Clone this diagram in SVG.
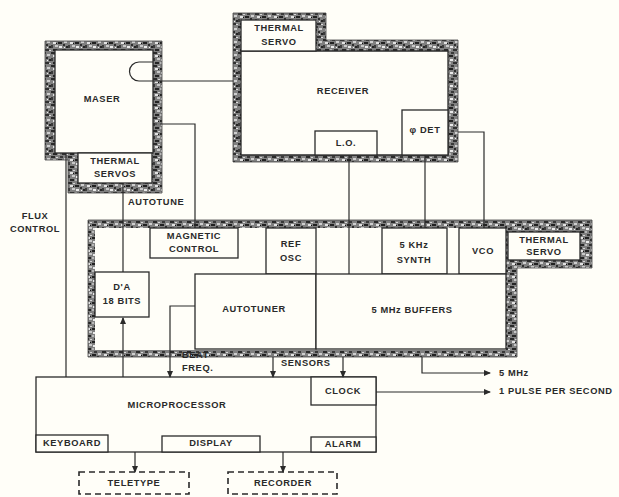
<svg xmlns="http://www.w3.org/2000/svg" width="619" height="497" viewBox="0 0 619 497">
<style>
text{font-family:"Liberation Sans",Arial,sans-serif;font-size:9.3px;font-weight:bold;fill:#2a2a2a;letter-spacing:0.6px;text-anchor:middle;dominant-baseline:middle}
.box{fill:#fffef8;stroke:#2a2a2a;stroke-width:1.3}
.dash{fill:#fffef8;stroke:#2a2a2a;stroke-width:1.6;stroke-dasharray:6,4}
.shield{fill:url(#spk);stroke:#444;stroke-width:0.8}
.ln{fill:none;stroke:#2a2a2a;stroke-width:1.2}
.lab{text-anchor:start}
</style>
<defs>
<pattern id="spk" width="17" height="13" patternUnits="userSpaceOnUse">
<rect width="17" height="13" fill="#808080"/>
<rect x="0" y="0" width="4" height="2" fill="#2a2a2a"/>
<rect x="5" y="1" width="2" height="1" fill="#d6d6d6"/>
<rect x="9" y="0" width="3" height="2" fill="#3a3a3a"/>
<rect x="13" y="2" width="3" height="2" fill="#cfcfcf"/>
<rect x="2" y="3" width="3" height="2" fill="#e2e2e2"/>
<rect x="7" y="3" width="4" height="2" fill="#222"/>
<rect x="12" y="5" width="2" height="2" fill="#2e2e2e"/>
<rect x="0" y="6" width="2" height="3" fill="#3a3a3a"/>
<rect x="4" y="6" width="3" height="2" fill="#c8c8c8"/>
<rect x="8" y="7" width="3" height="2" fill="#eaeaea"/>
<rect x="15" y="7" width="2" height="2" fill="#252525"/>
<rect x="2" y="10" width="4" height="2" fill="#262626"/>
<rect x="7" y="10" width="2" height="2" fill="#b8b8b8"/>
<rect x="11" y="10" width="4" height="2" fill="#303030"/>
<rect x="15" y="11" width="2" height="1" fill="#dddddd"/>
<rect x="5" y="4" width="1" height="1" fill="#111"/>
<rect x="13" y="8" width="1" height="1" fill="#f2f2f2"/>
</pattern>
<marker id="ah" markerWidth="7" markerHeight="6" refX="6" refY="3" orient="auto" markerUnits="userSpaceOnUse">
<path d="M0,0 L7,3 L0,6 Z" fill="#2a2a2a"/>
</marker>
</defs>
<rect width="619" height="497" fill="#fffef8"/>

<g id="maser-shield">
<path class="shield" d="M45,41 H162 V193 H68 V160 H45 Z"/>
</g>
<g id="receiver-shield">
<path class="shield" d="M233,13 H326 V40 H458 V162 H233 Z"/>
</g>
<g id="main-shield">
<path class="shield" d="M88,220 H592 V268 H517 V357 H88 Z"/>
<rect x="95" y="228" width="411" height="122" fill="#fffef8"/>
</g>

<g id="maser">
<rect class="box" x="55" y="50" width="98" height="103"/>
<text x="102" y="100">MASER</text>
</g>
<g id="thermal-servos">
<rect class="box" x="78" y="153" width="74" height="30"/>
<text x="115" y="162">THERMAL</text>
<text x="115" y="175">SERVOS</text>
</g>
<g id="receiver">
<path class="box" d="M241,51 H448 V155 H241 Z"/>
<text x="343" y="92">RECEIVER</text>
</g>
<g id="receiver-thermal-servo">
<rect class="box" x="241" y="20" width="75" height="31"/>
<text x="279" y="29">THERMAL</text>
<text x="279" y="43">SERVO</text>
</g>
<g id="lo">
<rect class="box" x="315" y="131" width="62" height="24"/>
<text x="346" y="144">L.O.</text>
</g>
<g id="phase-det">
<rect class="box" x="402" y="110" width="46" height="45"/>
<text x="425" y="131">φ DET</text>
</g>
<g id="magnetic-control">
<rect class="box" x="150" y="228" width="88" height="30"/>
<text x="194" y="237">MAGNETIC</text>
<text x="194" y="250">CONTROL</text>
</g>
<g id="ref-osc">
<rect class="box" x="266" y="228" width="50" height="46"/>
<text x="291" y="245">REF</text>
<text x="291" y="259">OSC</text>
</g>
<g id="synth">
<rect class="box" x="382" y="228" width="65" height="46"/>
<text x="414" y="246">5 KHz</text>
<text x="414" y="261">SYNTH</text>
</g>
<g id="vco">
<rect class="box" x="459" y="228" width="47" height="46"/>
<text x="483" y="252">VCO</text>
</g>
<g id="main-thermal-servo">
<rect class="box" x="508" y="232" width="72" height="28"/>
<text x="544" y="241">THERMAL</text>
<text x="544" y="253">SERVO</text>
</g>
<g id="da">
<rect class="box" x="95" y="272" width="54" height="45"/>
<text x="122" y="288">D'A</text>
<text x="122" y="302">18 BITS</text>
</g>
<g id="autotuner">
<rect class="box" x="195" y="274" width="121" height="75"/>
<text x="254" y="310">AUTOTUNER</text>
</g>
<g id="buffers">
<rect class="box" x="316" y="274" width="190" height="75"/>
<text x="412" y="311">5 MHz BUFFERS</text>
</g>
<g id="microprocessor">
<rect class="box" x="36" y="377" width="340" height="75"/>
<text x="177" y="406">MICROPROCESSOR</text>
</g>
<g id="clock">
<rect class="box" x="311" y="377" width="65" height="28"/>
<text x="343" y="392">CLOCK</text>
</g>
<g id="keyboard">
<rect class="box" x="36" y="435" width="72" height="17"/>
<text x="72" y="444">KEYBOARD</text>
</g>
<g id="display">
<rect class="box" x="162" y="436" width="98" height="16"/>
<text x="211" y="444">DISPLAY</text>
</g>
<g id="alarm">
<rect class="box" x="311" y="437" width="65" height="15"/>
<text x="343" y="445">ALARM</text>
</g>
<g id="teletype">
<rect class="dash" x="79" y="472" width="110" height="22"/>
<text x="134" y="484">TELETYPE</text>
</g>
<g id="recorder">
<rect class="dash" x="228" y="472" width="109" height="22"/>
<text x="283" y="484">RECORDER</text>
</g>

<g id="connectors">
<path class="ln" d="M153,62 H139 A9.5,9.5 0 0 0 139,81 H233"/>
<path class="ln" d="M153,124 H195 V228"/>
<path class="ln" d="M123,183 V272"/>
<path class="ln" d="M123,377 V318" marker-end="url(#ah)"/>
<path class="ln" d="M66,153 V377"/>
<path class="ln" d="M349,155 V274"/>
<path class="ln" d="M425,155 V228"/>
<path class="ln" d="M458,132 H484 V228"/>
<path class="ln" d="M195,306 H170 V377" marker-end="url(#ah)"/>
<path class="ln" d="M273,357 V377" marker-end="url(#ah)"/>
<path class="ln" d="M343,357 V377" marker-end="url(#ah)"/>
<path class="ln" d="M422,357 V373 H490" marker-end="url(#ah)"/>
<path class="ln" d="M376,392 H490" marker-end="url(#ah)"/>
<path class="ln" d="M135,452 V472" marker-end="url(#ah)"/>
<path class="ln" d="M283,452 V472" marker-end="url(#ah)"/>
</g>

<g id="labels">
<text x="35" y="217">FLUX</text>
<text x="35" y="230">CONTROL</text>
<text class="lab" x="128" y="203">AUTOTUNE</text>
<text class="lab" x="182" y="356">BEAT</text>
<text class="lab" x="182" y="369">FREQ.</text>
<text class="lab" x="281" y="364">SENSORS</text>
<text class="lab" x="499" y="374">5 MHz</text>
<text class="lab" x="499" y="392">1 PULSE PER SECOND</text>
</g>
</svg>
